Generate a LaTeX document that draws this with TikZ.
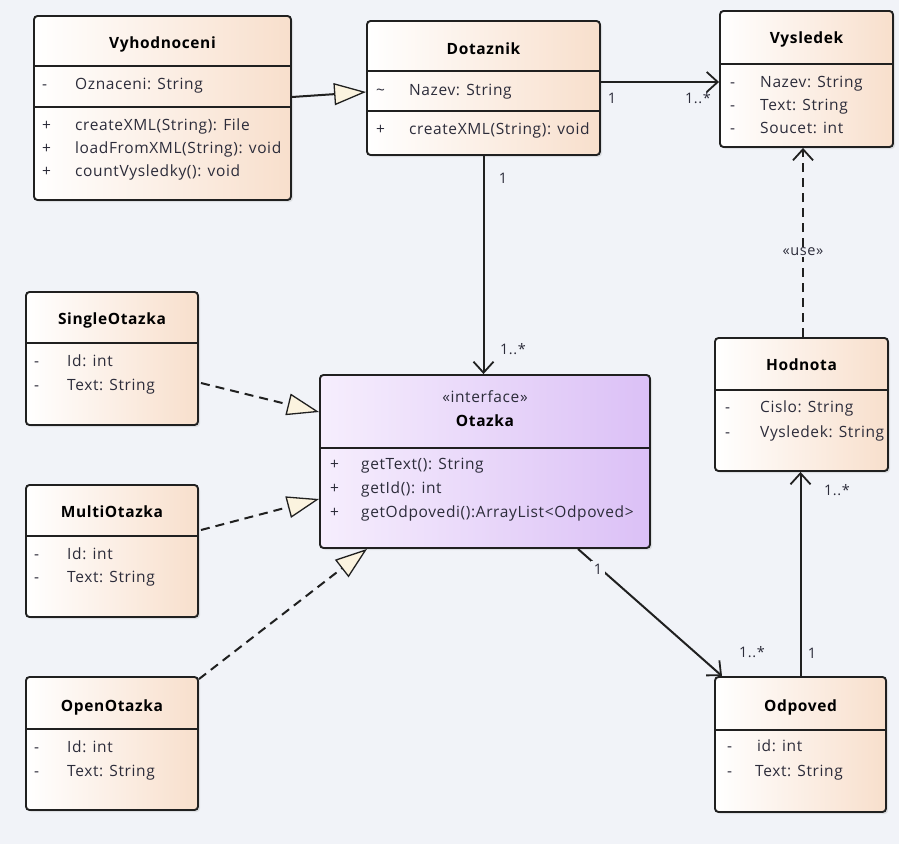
\documentclass[tikz,border=0pt]{standalone}
\usepackage{fontspec}
\setmainfont{Open Sans}[LetterSpace=4]
\usetikzlibrary{shadows,arrows.meta,calc}

\definecolor{bgc}{HTML}{F1F3F8}
\definecolor{peach}{HTML}{F8DFCC}
\definecolor{lilacL}{HTML}{F6EEFD}
\definecolor{lilacR}{HTML}{DBC0F6}
\definecolor{edge}{HTML}{202020}
\definecolor{txt}{HTML}{2C2C3A}
\definecolor{cream}{HTML}{FBF3DF}

\tikzset{
  x=1pt, y=-1pt,
  classbox/.style={draw=edge, line width=1.9pt, rounded corners=3.5pt,
    left color=white, right color=peach, inner sep=0pt,
    drop shadow={shadow xshift=2pt, shadow yshift=-2pt, opacity=0.18}},
  ifacebox/.style={classbox, left color=lilacL, right color=lilacR},
  sep/.style={draw=edge, line width=1.6pt},
  ctitle/.style={font=\fontsize{15.5}{18}\selectfont\bfseries, text=black, inner sep=0pt, anchor=mid},
  stereo/.style={font=\fontsize{15.5}{18}\selectfont, text=txt, inner sep=0pt, anchor=mid},
  vis/.style={font=\fontsize{15.5}{18}\selectfont, text=txt, inner sep=0pt, anchor=mid west},
  member/.style={font=\fontsize{15.5}{18}\selectfont, text=txt, inner sep=0pt, anchor=mid west},
  mult/.style={font=\fontsize{14.5}{17}\selectfont, text=txt, inner sep=0pt, anchor=mid},
  link/.style={draw=edge, line width=2pt},
  assoc/.style={link, -{Straight Barb[length=11pt, width=20pt, line width=1.8pt]}},
  usage/.style={assoc, dash pattern=on 9pt off 6pt},
  gen/.style={link, -{Triangle[length=32pt, width=22pt, fill=cream, line width=1.3pt]}},
  realize/.style={gen, dash pattern=on 9pt off 6pt},
}

% class box from its corners (x1,y1) to (x2,y2)
\newcommand\classat[6][classbox]{%
  \node[#1, minimum width={#4-#2}, minimum height={#5-#3}] (#6)
    at ({(#2+#4)/2},{(#3+#5)/2}) {};}
% horizontal compartment line inside a box
\newcommand\compline[2]{\draw[sep] ($(#1.west |- #1.north)+(0,#2)$) coordinate (#1-l#2) -- ($(#1.east |- #1.north)+(0,#2)$);}

\begin{document}
\begin{tikzpicture}
\fill[bgc] (0,0) rectangle (899,844);
\useasboundingbox (0,0) rectangle (899,844);

% ---------------- classes ----------------
\classat{34}{16}{291}{200}{vyh}
\compline{vyh}{51}
\compline{vyh}{92}
\node[ctitle] (vyh-t) at (162.5,46) {Vyhodnoceni};
\node[vis] (vyh-v1) at (42,87) {-};
\node[member] (vyh-a1) at (75,87) {Oznaceni: String};
\node[vis] (vyh-v2) at (42,128) {+};
\node[member] (vyh-m1) at (75,128) {createXML(String): File};
\node[vis] (vyh-v3) at (42,151) {+};
\node[member] (vyh-m2) at (75,151) {loadFromXML(String): void};
\node[vis] (vyh-v4) at (42,174) {+};
\node[member] (vyh-m3) at (75,174) {countVysledky(): void};

\classat{367}{21}{600}{155}{dot}
\compline{dot}{51}
\compline{dot}{91}
\node[ctitle] (dot-t) at (483.5,52) {Dotaznik};
\node[vis] (dot-v1) at (376,93) {\char`\~};
\node[member] (dot-a1) at (409,93) {Nazev: String};
\node[vis] (dot-v2) at (376,132) {+};
\node[member] (dot-m1) at (409,132) {createXML(String): void};

\classat{720}{11}{893}{147}{vys}
\compline{vys}{54}
\node[ctitle] (vys-t) at (806.5,41) {Vysledek};
\node[vis] (vys-v1) at (730,85) {-};
\node[member] (vys-a1) at (760,85) {Nazev: String};
\node[vis] (vys-v2) at (730,108) {-};
\node[member] (vys-a2) at (760,108) {Text: String};
\node[vis] (vys-v3) at (730,131) {-};
\node[member] (vys-a3) at (760,131) {Soucet: int};

\classat{26}{292}{198}{425}{sgl}
\compline{sgl}{52}
\node[ctitle] (sgl-t) at (112,322) {SingleOtazka};
\node[vis] (sgl-v1) at (34,364) {-};
\node[member] (sgl-a1) at (67,364) {Id: int};
\node[vis] (sgl-v2) at (34,388) {-};
\node[member] (sgl-a2) at (67,388) {Text: String};

\classat{26}{485}{198}{617}{mul}
\compline{mul}{52}
\node[ctitle] (mul-t) at (112,515) {MultiOtazka};
\node[vis] (mul-v1) at (34,557) {-};
\node[member] (mul-a1) at (67,557) {Id: int};
\node[vis] (mul-v2) at (34,580) {-};
\node[member] (mul-a2) at (67,580) {Text: String};

\classat{26}{677}{198}{810}{opn}
\compline{opn}{53}
\node[ctitle] (opn-t) at (112,709) {OpenOtazka};
\node[vis] (opn-v1) at (34,750) {-};
\node[member] (opn-a1) at (67,750) {Id: int};
\node[vis] (opn-v2) at (34,774) {-};
\node[member] (opn-a2) at (67,774) {Text: String};

\classat[ifacebox]{320}{375}{650}{548}{ota}
\compline{ota}{74}
\node[stereo] (ota-s) at (485,400) {«interface»};
\node[ctitle] (ota-t) at (485,424) {Otazka};
\node[vis] (ota-v1) at (330,467) {+};
\node[member] (ota-m1) at (361,467) {getText(): String};
\node[vis] (ota-v2) at (330,491) {+};
\node[member] (ota-m2) at (361,491) {getId(): int};
\node[vis] (ota-v3) at (330,515) {+};
\node[member] (ota-m3) at (361,515) {getOdpovedi():ArrayList<Odpoved>};

\classat{715}{338}{888}{471}{hod}
\compline{hod}{53}
\node[ctitle] (hod-t) at (801.5,368) {Hodnota};
\node[vis] (hod-v1) at (725,410) {-};
\node[member] (hod-a1) at (760,410) {Cislo: String};
\node[vis] (hod-v2) at (725,435) {-};
\node[member] (hod-a2) at (760,435) {Vysledek: String};

\classat{715}{677}{886}{812}{odp}
\compline{odp}{54}
\node[ctitle] (odp-t) at (800.5,709) {Odpoved};
\node[vis] (odp-v1) at (727,749) {-};
\node[member] (odp-a1) at (757,749) {id: int};
\node[vis] (odp-v2) at (727,774) {-};
\node[member] (odp-a2) at (755,774) {Text: String};

% ---------------- connectors ----------------
\draw[gen] ($(vyh.east)+(0,-11)$) -- ($(dot.west)+(0,4)$);
\draw[assoc] ($(dot.east)+(0,-6)$) -- ($(vys.west)+(0,3)$);
\draw[assoc] (dot.south) -- (dot.south |- ota.north);
\draw[realize] ($(sgl.east)+(2,24.5)$) -- ($(ota.west)+(0,-49.5)$);
\draw[realize] ($(mul.east)+(2,-21)$) -- ($(ota.west)+(0,37.5)$);
\draw[realize] ($(opn.north east)+(0,3)$) -- ($(ota.south)+(-118,0)$);
\draw[assoc] ($(ota.south)+(93,0)$) -- ($(odp.north)+(-78.5,0)$);
\draw[assoc] (odp.north) -- (odp.north |- hod.south);
\draw[usage] ($(hod.north)+(1.5,0)$) -- ($(hod.north |- vys.south)+(1.5,0)$)
  node[pos=0.45, fill=bgc, inner sep=1pt, font=\fontsize{14.5}{17}\selectfont, text=txt] (use-l) {«use»};

% ---------------- multiplicities ----------------
\node[mult] (m1) at (612,101) {1};
\node[mult] (m2) at (698,101) {1..*};
\node[mult] (m3) at (503,181) {1};
\node[mult] (m4) at (513,352) {1..*};
\node[mult, fill=bgc, inner sep=3pt] (m5) at (598,572) {1};
\node[mult] (m6) at (752,655) {1..*};
\node[mult] (m7) at (837,493) {1..*};
\node[mult] (m8) at (812,656) {1};
\end{tikzpicture}
\end{document}
